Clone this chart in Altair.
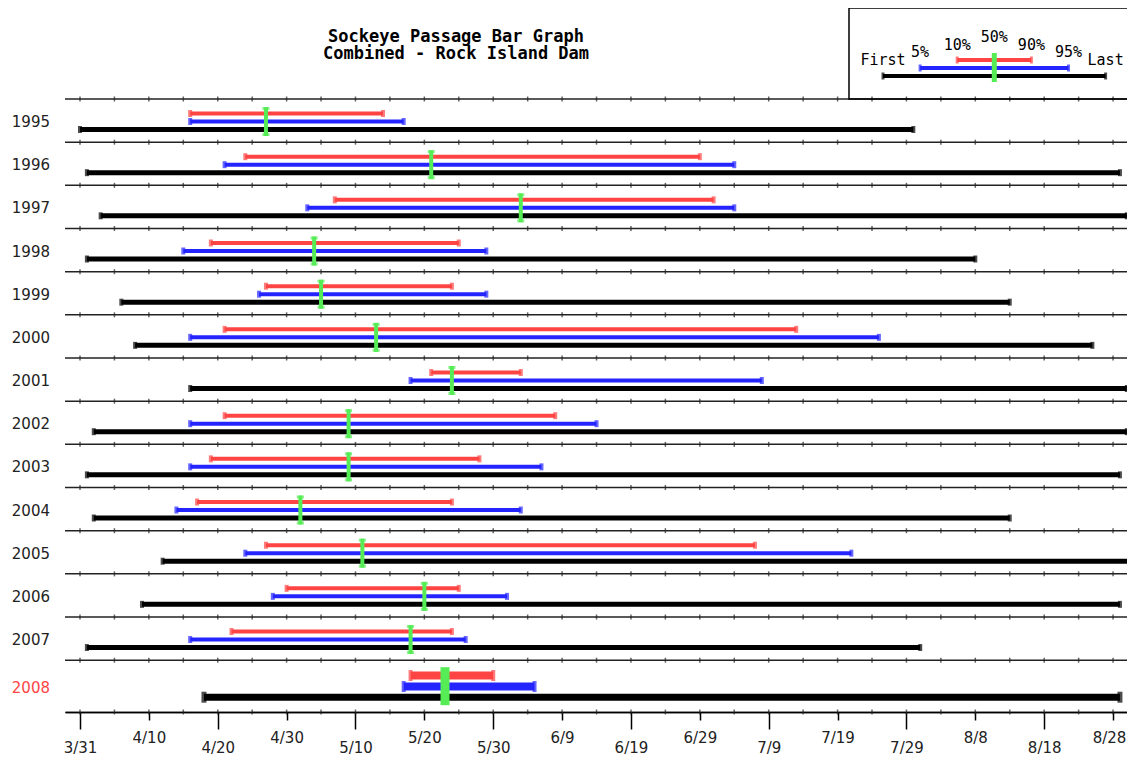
import json
import altair as alt
import pandas as pd

# ---------------- data ----------------
years = [1995, 1996, 1997, 1998, 1999, 2000, 2001, 2002, 2003, 2004, 2005, 2006, 2007, 2008]
first_day = ["3/31", "4/1", "4/3", "4/1", "4/6", "4/8", "4/16", "4/2", "4/1", "4/2", "4/12", "4/9", "4/1", "4/18"]
pct5 = ["4/16", "4/21", "5/3", "4/15", "4/26", "4/16", "5/18", "4/16", "4/16", "4/14", "4/24", "4/28", "4/16", "5/17"]
pct10 = ["4/16", "4/24", "5/7", "4/19", "4/27", "4/21", "5/21", "4/21", "4/19", "4/17", "4/27", "4/30", "4/22", "5/18"]
pct50 = ["4/27", "5/21", "6/3", "5/4", "5/5", "5/13", "5/24", "5/9", "5/9", "5/2", "5/11", "5/20", "5/18", "5/23"]
pct90 = ["5/14", "6/29", "7/1", "5/25", "5/24", "7/13", "6/3", "6/8", "5/28", "5/24", "7/7", "5/25", "5/24", "5/30"]
pct95 = ["5/17", "7/4", "7/4", "5/29", "5/29", "7/25", "7/8", "6/14", "6/6", "6/3", "7/21", "6/1", "5/26", "6/5"]
last_day = ["7/30", "8/29", "8/30", "8/8", "8/13", "8/25", "8/30", "8/30", "8/29", "8/13", "9/1", "8/29", "7/31", "8/29"]

tick_labels = ["3/31", "4/10", "4/20", "4/30", "5/10", "5/20", "5/30", "6/9", "6/19",
               "6/29", "7/9", "7/19", "7/29", "8/8", "8/18", "8/28"]

title_lines = ["Sockeye Passage Bar Graph", "Combined - Rock Island Dam"]
legend_labels = ["First", "5%", "10%", "50%", "90%", "95%", "Last"]
highlight_year = 2008


def to_day(s):
    m, d = (int(v) for v in s.split("/"))
    return (pd.Timestamp(2001, m, d) - pd.Timestamp(2001, 3, 31)).days


# ---------------- layout / style ----------------
W, H = 1062, 613
ORIGIN_PX, DAY_PX = 15, 6.887
x_domain = [-ORIGIN_PX / DAY_PX, (W - ORIGIN_PX) / DAY_PX]
LAST_ROW = 1.2
n = len(years)
y_domain = [0, (n - 1) + LAST_ROW]

RED, BLUE, BLACK, GREEN = "#ff4444", "#2424ff", "#000000", "#55ec55"
LINE = "#222222"
FONT = "DejaVu Sans"
MONO = "DejaVu Sans Mono"

x_scale = alt.Scale(domain=x_domain, nice=False, zero=False)
y_scale = alt.Scale(domain=y_domain, reverse=True, nice=False, zero=False)

df = pd.DataFrame({
    "year": [str(y) for y in years],
    "row": list(range(n)),
    "first": [to_day(s) for s in first_day],
    "p5": [to_day(s) for s in pct5],
    "p10": [to_day(s) for s in pct10],
    "p50": [to_day(s) for s in pct50],
    "p90": [to_day(s) for s in pct90],
    "p95": [to_day(s) for s in pct95],
    "last": [to_day(s) for s in last_day],
})
df["hl"] = [y == highlight_year for y in years]
df["center"] = [r + (LAST_ROW / 2 if h else 0.5) for r, h in zip(df["row"], df["hl"])]

tick_days = [to_day(s) for s in tick_labels]
minor_days = sorted(set(tick_days + [d + 5 for d in tick_days if d + 5 <= x_domain[1]]))
boundaries = list(range(n)) + [y_domain[1]]
sep_ticks = pd.DataFrame([{"d": d, "b": b} for d in minor_days for b in boundaries])
seps = pd.DataFrame({"b": list(range(n))})

label_expr = f"{json.dumps(tick_labels)}[indexof({json.dumps(tick_days)}, datum.value)]"


def x_axis(values, tick_size, pad):
    return alt.Axis(orient="bottom", values=values, tickSize=tick_size, tickWidth=1.5,
                    tickColor="black", domainColor="black", domainWidth=1.5,
                    labelExpr=label_expr, labelFont=FONT, labelFontSize=15, labelColor="#222",
                    labelPadding=pad, labelFlush=False, labelOverlap=False,
                    labelOffset={"condition": {"test": f"datum.value === {tick_days[-1]}", "value": -4},
                                 "value": 0},
                    grid=False, title=None)


axis_hi = x_axis(tick_days[1::2], 8, 10)
axis_lo = x_axis(tick_days[0::2], 17, 11)

layers = []

# row separators + left axis line
layers.append(
    alt.Chart(seps).mark_rule(color=LINE, strokeWidth=1.5).encode(
        y=alt.Y("b:Q", scale=y_scale,
                axis=alt.Axis(orient="left", domain=True, domainColor="black", domainWidth=1.5,
                              ticks=False, labels=False, grid=False, title=None))
    )
)
# small ticks across every separator
layers.append(
    alt.Chart(sep_ticks).mark_tick(orient="vertical", size=5, thickness=1.5, color=LINE).encode(
        x=alt.X("d:Q", scale=x_scale, axis=axis_hi),
        y=alt.Y("b:Q", scale=y_scale, axis=None),
    )
)


def bar(src, start, end, color, off, width, cap_w, cap_h, axis=None):
    rule = alt.Chart(src).mark_rule(color=color, strokeWidth=width, yOffset=off, clip=True).encode(
        x=alt.X(f"{start}:Q", scale=x_scale, axis=axis),
        x2=alt.X2(f"{end}:Q"),
        y=alt.Y("row:Q", scale=y_scale, axis=None),
    )
    caps = alt.Chart(src).transform_fold([start, end]).mark_tick(
        orient="vertical", color=color, thickness=cap_w, size=cap_h, yOffset=off, clip=True
    ).encode(
        x=alt.X("value:Q", scale=x_scale, axis=None),
        y=alt.Y("row:Q", scale=y_scale, axis=None),
    )
    return [rule, caps]


def median(src, top, bottom, width, flare):
    out = [
        alt.Chart(src).mark_rule(color=GREEN, strokeWidth=width, yOffset=top, y2Offset=bottom).encode(
            x=alt.X("p50:Q", scale=x_scale, axis=None),
            y=alt.Y("row:Q", scale=y_scale, axis=None),
            y2=alt.Y2("row:Q"),
        )
    ]
    if flare:
        for off in (top + 1.5, bottom - 1.5):
            out.append(
                alt.Chart(src).mark_tick(orient="horizontal", color=GREEN, size=flare, thickness=3,
                                         yOffset=off).encode(
                    x=alt.X("p50:Q", scale=x_scale, axis=None),
                    y=alt.Y("row:Q", scale=y_scale, axis=None),
                )
            )
    return out


normal = df[~df["hl"]]
hl = df[df["hl"]]

layers += bar(normal, "first", "last", BLACK, 30.5, 5, 4, 7, axis=axis_lo)
layers += bar(normal, "p5", "p95", BLUE, 22.5, 4, 4, 7)
layers += bar(normal, "p10", "p90", RED, 14.5, 4, 4, 7)
layers += median(normal, 8, 37, 4, 7)

layers += bar(hl, "first", "last", BLACK, 37, 7, 5, 11)
layers += bar(hl, "p5", "p95", BLUE, 26.3, 8, 4, 11)
layers += bar(hl, "p10", "p90", RED, 15.3, 8, 4, 11)
layers += median(hl, 7, 45, 9, 0)

# year labels
layers.append(
    alt.Chart(df).mark_text(align="right", baseline="middle", font=FONT, fontSize=15, dy=1.5).encode(
        x=alt.value(-15),
        y=alt.Y("center:Q", scale=y_scale, axis=None),
        text="year:N",
        color=alt.condition("datum.hl", alt.value(RED), alt.value("#222")),
    )
)

# title
title_df = pd.DataFrame({"t": title_lines, "ty": [-57 + 17 * i for i in range(len(title_lines))]})
layers.append(
    alt.Chart(title_df).mark_text(font=MONO, fontWeight="bold", fontSize=17, align="center",
                                  baseline="alphabetic", color="black").encode(
        x=alt.value(391), y=alt.Y("ty:Q", scale=None), text="t:N"
    )
)

# legend box
layers.append(
    alt.Chart(pd.DataFrame({"k": [0]})).mark_rect(fillOpacity=0, stroke="black", strokeWidth=1.5).encode(
        x=alt.value(784), x2=alt.value(1100), y=alt.value(-91), y2=alt.value(0)
    )
)

LX0, LSTEP = 818, 37.1
stop_x = [LX0 + LSTEP * i for i in range(len(legend_labels))]
label_y = [-34, -42, -49, -57, -49, -42, -34]
leg_text = pd.DataFrame({"t": legend_labels, "lx": stop_x, "ly": label_y})
layers.append(
    alt.Chart(leg_text).mark_text(font=MONO, fontSize=15, align="center", baseline="alphabetic",
                                  color="black").encode(
        x=alt.X("lx:Q", scale=None), y=alt.Y("ly:Q", scale=None), text="t:N"
    )
)
leg_bars = pd.DataFrame({
    "x1": [stop_x[0], stop_x[1], stop_x[2]],
    "x2": [stop_x[6], stop_x[5], stop_x[4]],
    "ly": [-23, -31, -39],
    "c": [BLACK, BLUE, RED],
})
layers.append(
    alt.Chart(leg_bars).mark_rule(strokeWidth=4).encode(
        x=alt.X("x1:Q", scale=None), x2="x2:Q", y=alt.Y("ly:Q", scale=None),
        color=alt.Color("c:N", scale=None),
    )
)
leg_caps = pd.concat([
    leg_bars[["x1", "ly", "c"]].rename(columns={"x1": "cx"}),
    leg_bars[["x2", "ly", "c"]].rename(columns={"x2": "cx"}),
])
layers.append(
    alt.Chart(leg_caps).mark_tick(orient="vertical", thickness=3, size=7).encode(
        x=alt.X("cx:Q", scale=None), y=alt.Y("ly:Q", scale=None),
        color=alt.Color("c:N", scale=None),
    )
)
layers.append(
    alt.Chart(pd.DataFrame({"gx": [stop_x[3]], "g1": [-46], "g2": [-17]})).mark_rule(
        strokeWidth=5, color=GREEN).encode(
        x=alt.X("gx:Q", scale=None), y=alt.Y("g1:Q", scale=None), y2="g2:Q"
    )
)

chart = alt.layer(*layers).resolve_axis(x="independent").properties(
    width=W, height=H,
    padding={"left": 57, "top": 91, "right": 0, "bottom": 43},
    autosize=alt.AutoSizeParams(type="none"),
    background="white",
).configure_view(strokeWidth=0)

chart.save("out.html", embed_options={"renderer": "svg", "actions": False})
